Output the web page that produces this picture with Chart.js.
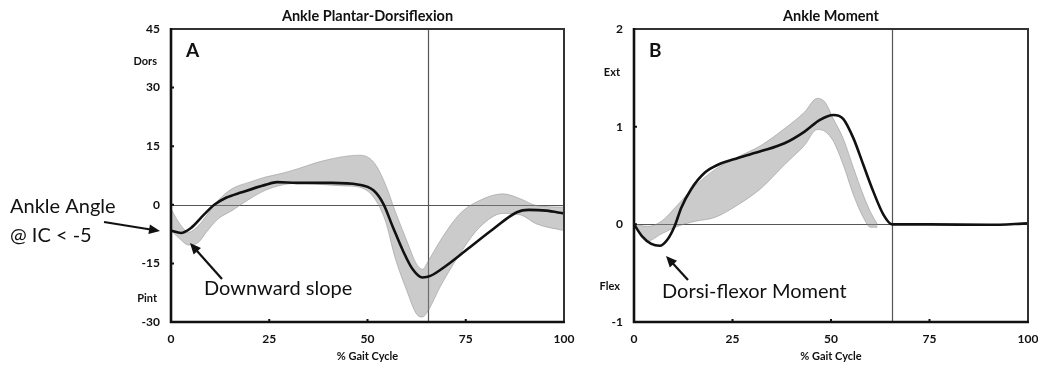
<!DOCTYPE html>
<html lang="en">
<head>
<meta charset="UTF-8" />
<title>Ankle Plantar-Dorsiflexion / Ankle Moment</title>
<script src="https://cdn.jsdelivr.net/npm/chart.js"></script>
<style>
  body { margin: 0; background: #fff; }
  .wrap { position: relative; width: 1038px; height: 369px; }
  .panel { position: absolute; top: 0; height: 369px; }
  #panel-a { left: 0; width: 590px; }
  #panel-b { left: 590px; width: 448px; }
</style>
</head>
<body>
<div class="wrap">
  <div class="panel" id="panel-a"><canvas id="angle-chart"></canvas></div>
  <div class="panel" id="panel-b"><canvas id="moment-chart"></canvas></div>
</div>
<script>
// --- A: ankle plantar-dorsiflexion (deg) ---
const angleX    = [0, 2.5, 5, 8.5, 11, 14, 18, 24, 27, 32, 41, 47.5, 51.5, 54, 56.5, 59, 61.5, 64, 66, 70, 75, 82, 88, 91, 95.5, 100];
const angleMean = [-6.6, -7.2, -6.0, -2.4, 0, 1.8, 3.2, 5.1, 5.8, 5.6, 5.6, 5.2, 3.7, 0.3, -5.8, -11.7, -16.5, -18.6, -18.2, -15.6, -11.7, -6.2, -1.9, -1.3, -1.5, -2.2];

const angleBandX = [0, 2, 4.5, 7, 9, 12, 15.5, 20, 24, 28, 32.5, 37, 41, 45, 48, 51.5, 54.5, 57, 60, 62.5, 64, 65.5, 68.5, 73.5, 78.5, 84.5, 89, 93, 100];
const angleUpper = [-1, -4.5, -7.0, -5.3, -2.8, 1.1, 4.1, 5.8, 7.1, 8.0, 9.3, 10.8, 11.8, 12.5, 12.7, 11, 5.4, -1.5, -9.2, -15.2, -16.5, -14.3, -9.2, -2.3, 1.1, 2.8, 1.5, -0.2, -0.6];
const angleLower = [-6.6, -8.5, -10.3, -9.6, -7.0, -3.6, -1.5, 1.5, 3.7, 5.0, 5.5, 5.3, 5.0, 4.8, 4.5, 2.0, -4, -13.5, -22, -28, -28.7, -27, -21, -12.6, -5.8, -2.2, -2.6, -4.9, -6.6];

// --- B: ankle moment (Nm/kg) ---
const momentX    = [0, 2, 4.4, 6.5, 8.6, 10.3, 12, 14.5, 18, 21.3, 26.4, 32.3, 38.2, 43.3, 47.2, 50.6, 53.1, 55.7, 58.2, 60.7, 63.3, 65.5, 75, 90, 100];
const momentMean = [0, -0.12, -0.2, -0.22, -0.15, -0.02, 0.17, 0.36, 0.53, 0.61, 0.68, 0.75, 0.83, 0.95, 1.07, 1.12, 1.08, 0.88, 0.61, 0.34, 0.10, 0.0, 0.0, -0.005, 0.01];

const momentBandX = [0, 3.5, 6.9, 11.1, 15.4, 20.5, 26.4, 32.3, 38.2, 43.3, 46.5, 48.5, 50.6, 53.1, 55.7, 58.2, 60, 61.8];
const momentUpper = [0, -0.02, 0.03, 0.2, 0.39, 0.56, 0.69, 0.81, 0.98, 1.15, 1.29, 1.25, 1.08, 0.88, 0.58, 0.3, 0.13, 0.0];
const momentLower = [0, -0.17, -0.1, -0.02, 0.03, 0.07, 0.2, 0.37, 0.61, 0.81, 0.97, 0.95, 0.85, 0.61, 0.3, 0.07, -0.03, -0.03];

const xTicks = [0, 25, 50, 75, 100];
const angleTicks = [-30, -15, 0, 15, 30, 45];
const momentTicks = [-1, 0, 1, 2];
const toeOff = 65.5;

const pts = (xs, ys) => xs.map((x, i) => ({ x, y: ys[i] }));

function arrow(ctx, x1, y1, x2, y2) {
  const ang = Math.atan2(y2 - y1, x2 - x1), head = 12;
  ctx.beginPath();
  ctx.moveTo(x1, y1);
  ctx.lineTo(x2 - Math.cos(ang) * head * 0.8, y2 - Math.sin(ang) * head * 0.8);
  ctx.stroke();
  ctx.beginPath();
  ctx.moveTo(x2, y2);
  ctx.lineTo(x2 - head * Math.cos(ang - 0.42), y2 - head * Math.sin(ang - 0.42));
  ctx.lineTo(x2 - head * Math.cos(ang + 0.42), y2 - head * Math.sin(ang + 0.42));
  ctx.closePath();
  ctx.fill();
}

// reference lines, frame, titles and notes
const deco = {
  id: 'deco',
  beforeDatasetsDraw(chart) {
    const { ctx, chartArea: a, scales: { x, y } } = chart;
    ctx.save();
    ctx.strokeStyle = '#555';
    ctx.lineWidth = 1.2;
    ctx.beginPath();
    const y0 = Math.round(y.getPixelForValue(0)) + 0.5;
    ctx.moveTo(a.left, y0); ctx.lineTo(a.right, y0);
    const xt = Math.round(x.getPixelForValue(toeOff)) + 0.5;
    ctx.moveTo(xt, a.top); ctx.lineTo(xt, a.bottom);
    ctx.stroke();
    ctx.restore();
  },
  afterDraw(chart, args, o) {
    const { ctx, chartArea: a, scales: { x, y } } = chart;
    ctx.save();
    // frame
    ctx.strokeStyle = '#333';
    ctx.lineWidth = 2;
    ctx.beginPath();
    ctx.moveTo(a.left, a.top); ctx.lineTo(a.right, a.top); ctx.lineTo(a.right, a.bottom);
    ctx.stroke();
    ctx.strokeStyle = '#111';
    ctx.lineWidth = 2.6;
    ctx.beginPath();
    ctx.moveTo(a.left, a.top - 1); ctx.lineTo(a.left, a.bottom); ctx.lineTo(a.right + 1, a.bottom);
    ctx.stroke();
    // small inner tick marks
    ctx.lineWidth = 2;
    ctx.beginPath();
    y.ticks.forEach(t => {
      if (t.value === y.min || t.value === y.max) return;
      const py = y.getPixelForValue(t.value);
      ctx.moveTo(a.left, py); ctx.lineTo(a.left + 3, py);
    });
    x.ticks.forEach(t => {
      if (t.value === x.min || t.value === x.max) return;
      const px = x.getPixelForValue(t.value);
      ctx.moveTo(px, a.bottom); ctx.lineTo(px, a.bottom - 3);
    });
    ctx.stroke();

    ctx.fillStyle = '#111';
    ctx.textAlign = 'center';
    ctx.textBaseline = 'middle';
    const cx = (a.left + a.right) / 2;
    ctx.font = 'bold 14.5px Lato, sans-serif';
    ctx.fillText(o.title, cx, a.top - 13);
    ctx.font = 'bold 11px Lato, sans-serif';
    ctx.fillText('% Gait Cycle', cx, a.bottom + 34);

    // direction labels on the y axis
    ctx.textAlign = 'right';
    ctx.font = 'bold 11px Lato, sans-serif';
    ctx.fillText(o.upLabel, a.left - 14, y.getPixelForValue(o.upAt));
    ctx.fillText(o.downLabel, a.left - 14, y.getPixelForValue(o.downAt));

    // panel letter
    ctx.textAlign = 'left';
    ctx.textBaseline = 'alphabetic';
    ctx.font = 'bold 19px Lato, sans-serif';
    ctx.fillText(o.letter, a.left + 15, a.top + 28);

    // notes + arrows
    ctx.font = '20px Lato, sans-serif';
    o.notes.forEach(n => ctx.fillText(n.text, n.x, n.y));
    ctx.strokeStyle = '#111';
    ctx.lineWidth = 2.2;
    o.arrows.forEach(r => arrow(ctx, r[0], r[1], r[2], r[3]));
    ctx.restore();
  }
};

function makeChart(id, mean, band, yMin, yMax, yTicks, yWidth, pad, deco_opts) {
  return new Chart(document.getElementById(id), {
    type: 'line',
    data: {
      datasets: [
        { data: mean, borderColor: '#111', borderWidth: 2.6, pointRadius: 0, fill: false, cubicInterpolationMode: 'monotone' },
        { data: band[0], borderColor: 'rgba(130,130,130,0.45)', borderWidth: 1, pointRadius: 0, fill: false, cubicInterpolationMode: 'monotone' },
        { data: band[1], borderColor: 'rgba(130,130,130,0.45)', borderWidth: 1, pointRadius: 0, fill: '-1',
          backgroundColor: 'rgba(140,140,140,0.45)', cubicInterpolationMode: 'monotone' }
      ]
    },
    options: {
      responsive: true,
      maintainAspectRatio: false,
      animation: false,
      layout: { padding: { top: 29, right: pad, bottom: 0, left: 0 } },
      plugins: { legend: { display: false }, tooltip: { enabled: false }, deco: deco_opts },
      scales: {
        x: {
          type: 'linear', min: 0, max: 100,
          afterBuildTicks: s => { s.ticks = xTicks.map(v => ({ value: v })); },
          afterFit: s => { s.height = 47; s.paddingLeft = 0; s.paddingRight = 0; },
          grid: { display: false, drawTicks: false },
          border: { display: false },
          ticks: { padding: 10, color: '#111', font: { family: 'Lato', weight: 'bold', size: 12 } }
        },
        y: {
          min: yMin, max: yMax,
          afterBuildTicks: s => { s.ticks = yTicks.map(v => ({ value: v })); },
          afterFit: s => { s.width = yWidth; s.paddingTop = 0; s.paddingBottom = 0; },
          grid: { display: false, drawTicks: false },
          border: { display: false },
          ticks: { padding: 11, color: '#111', font: { family: 'Lato', weight: 'bold', size: 12 } }
        }
      }
    },
    plugins: [deco]
  });
}

makeChart('angle-chart', pts(angleX, angleMean), [pts(angleBandX, angleUpper), pts(angleBandX, angleLower)],
  -30, 45, angleTicks, 171, 26, {
    title: 'Ankle Plantar-Dorsiflexion', letter: 'A',
    upLabel: 'Dors', upAt: 36.6, downLabel: 'Pint', downAt: -24,
    notes: [
      { text: 'Ankle Angle', x: 10, y: 213 },
      { text: '@ IC < -5', x: 10, y: 242 },
      { text: 'Downward slope', x: 204, y: 295 }
    ],
    arrows: [[104, 222, 160, 231], [222, 279, 190, 243]]
  });

makeChart('moment-chart', pts(momentX, momentMean), [pts(momentBandX, momentUpper), pts(momentBandX, momentLower)],
  -1, 2, momentTicks, 44, 10, {
    title: 'Ankle Moment', letter: 'B',
    upLabel: 'Ext', upAt: 1.55, downLabel: 'Flex', downAt: -0.64,
    notes: [
      { text: 'Dorsi-flexor Moment', x: 72, y: 298 }
    ],
    arrows: [[98, 280, 76, 256]]
  });
</script>
</body>
</html>
